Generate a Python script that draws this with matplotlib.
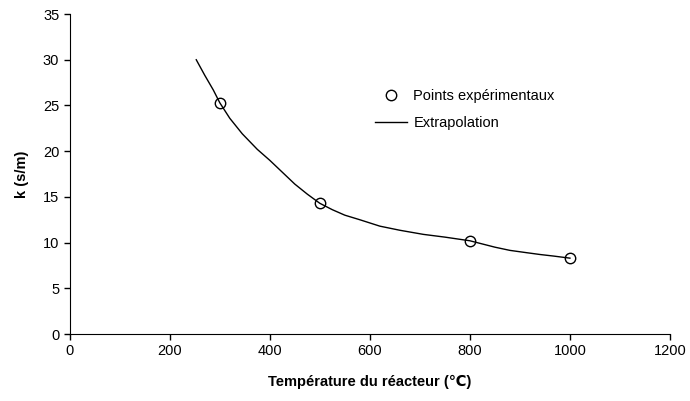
import matplotlib
matplotlib.use("Agg")
import matplotlib.pyplot as plt

plt.rcParams['font.family'] = ['Liberation Sans', 'DejaVu Sans']

# experimental points
temp_exp = [300, 500, 800, 1000]
k_exp = [25.3, 14.3, 10.2, 8.3]

# extrapolation curve
temp_fit = [253, 270, 287, 300, 320, 345, 375, 400, 425, 450, 475, 500, 525, 550,
            580, 620, 660, 707, 750, 800, 825, 850, 880, 913, 940, 967, 1000]
k_fit = [30.0, 28.3, 26.7, 25.3, 23.6, 21.9, 20.2, 19.0, 17.7, 16.4, 15.3, 14.3, 13.6, 13.0,
         12.5, 11.8, 11.35, 10.9, 10.6, 10.2, 9.85, 9.5, 9.15, 8.9, 8.7, 8.53, 8.3]

fig = plt.figure(figsize=(6.9, 4.01), dpi=100)
ax = fig.add_axes([0.101, 0.167, 0.870, 0.798])

ax.plot(temp_exp, k_exp, linestyle='none', marker='o', markersize=7.5,
        markerfacecolor='none', markeredgecolor='black', markeredgewidth=1.0,
        label='Points expérimentaux')
ax.plot(temp_fit, k_fit, color='black', linewidth=1.0, label='Extrapolation')

ax.set_xlim(0, 1200)
ax.set_ylim(0, 35)
ax.set_xticks(range(0, 1201, 200))
ax.set_yticks(range(0, 36, 5))
ax.tick_params(direction='out', length=4, width=1, labelsize=10.5)
for s in ['top', 'right']:
    ax.spines[s].set_visible(False)
ax.set_xlabel('Température du réacteur (℃)', fontsize=10.5, fontweight='bold', labelpad=12)
ax.set_ylabel('k (s/m)', fontsize=10.5, fontweight='bold', labelpad=10)

ax.legend(loc='upper left', bbox_to_anchor=(0.508, 0.765), frameon=False, fontsize=10.5,
          handlelength=2.2, handletextpad=0.45, labelspacing=0.85, borderpad=0,
          borderaxespad=0)

fig.savefig('out.png', dpi=100)
